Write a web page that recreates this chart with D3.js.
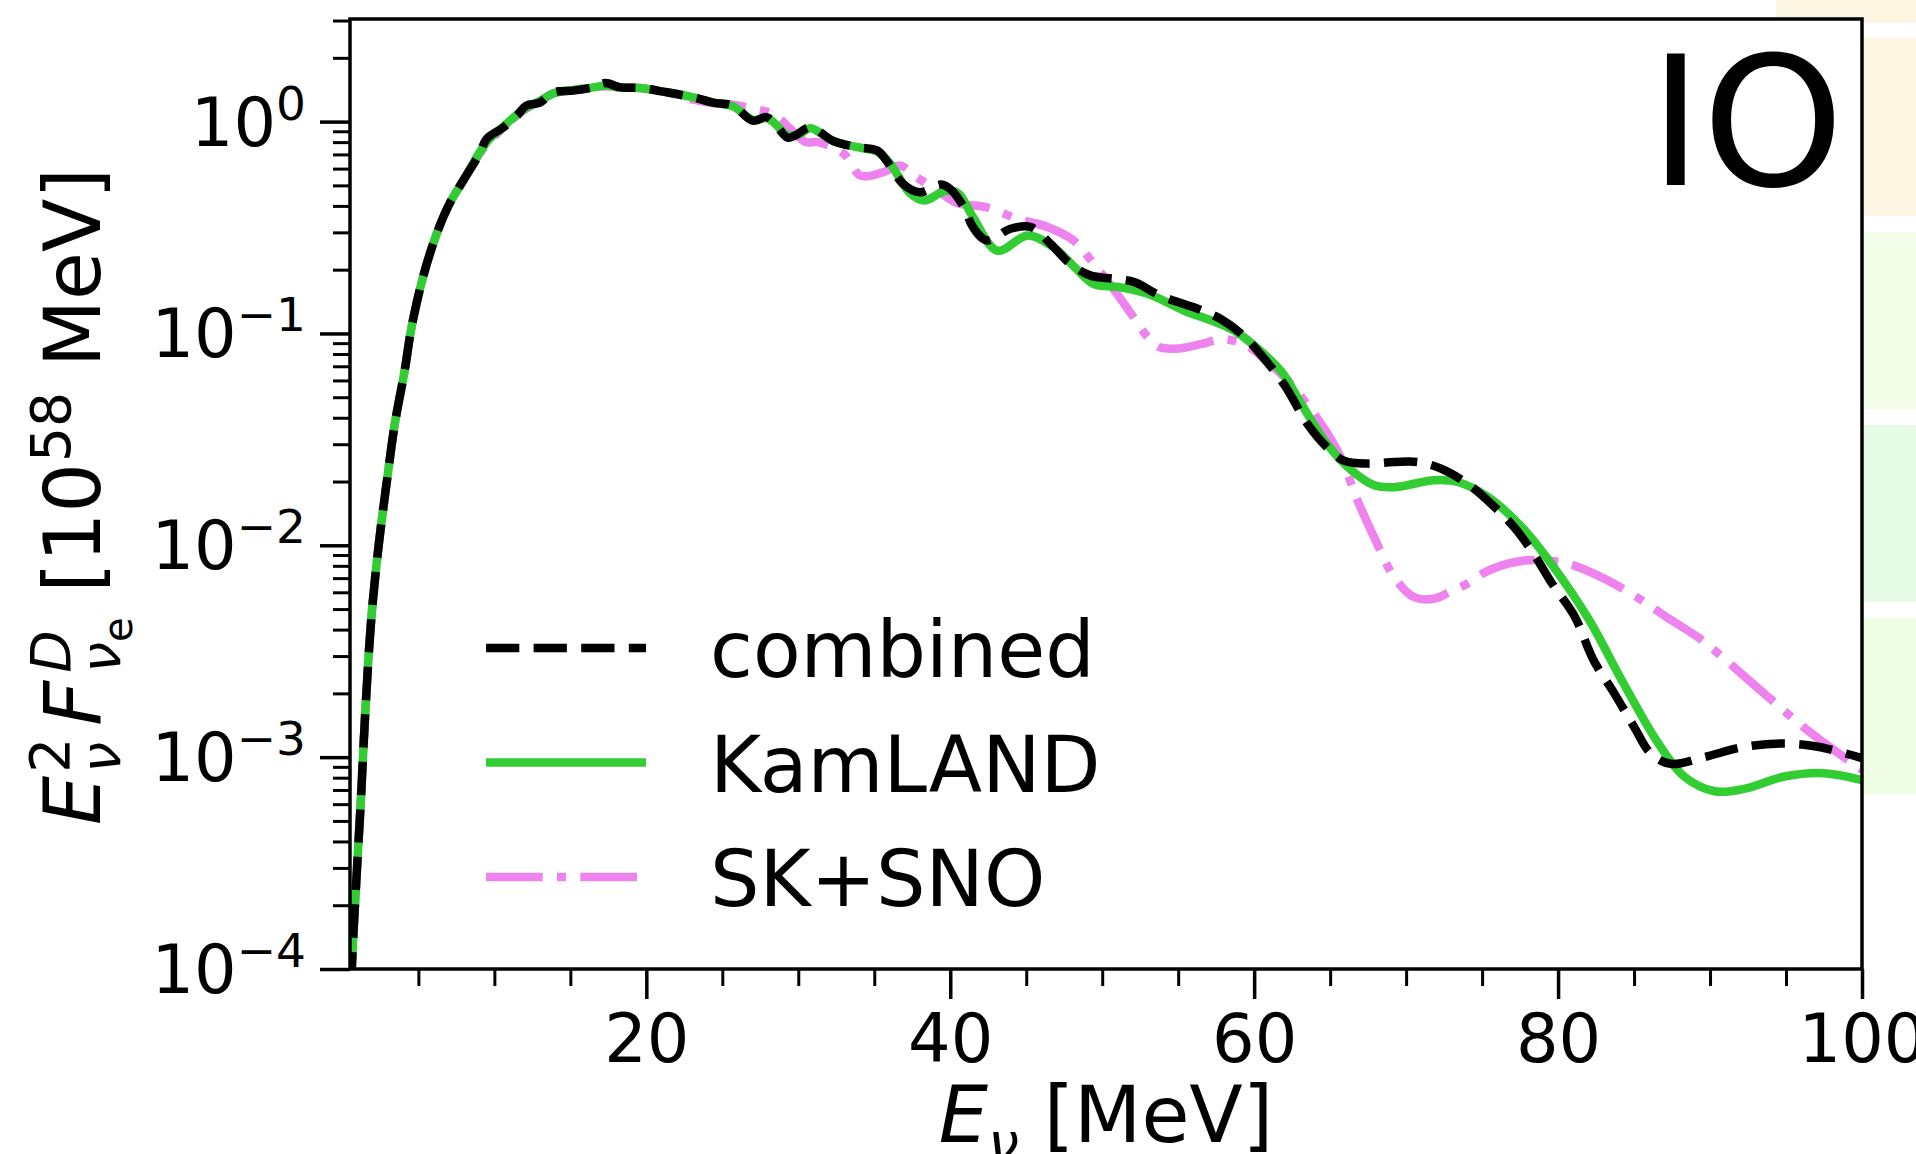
<!DOCTYPE html>
<html lang="en">
<head>
    <title>IO flux</title>
    <meta charset="utf-8">
    <style>
        body { margin: 0; background: #ffffff; }
        svg text { font-family: "DejaVu Sans", sans-serif; fill: #000; }
    </style>
    <script src="https://d3js.org/d3.v7.min.js"></script>
</head>

<body>
<div id="chart"></div>

<script>

    // [E_nu (MeV), E^2 F (1e58 MeV)]
    const combined = [
        [0.55, 5e-5], [0.62, 1e-4], [0.9, 2.5e-4], [1.2, 6e-4], [1.5, 1.6e-3], [1.9, 4.5e-3],
        [2.4, 0.0102], [3.0, 0.022], [3.45, 0.0375], [4.1, 0.067], [4.55, 0.107], [5.3, 0.184],
        [6.2, 0.295], [7.05, 0.41], [7.95, 0.527], [9.0, 0.70], [9.5, 0.83], [10.6, 0.94],
        [11.5, 1.07], [12.1, 1.19], [13.0, 1.23], [13.9, 1.375], [15.2, 1.40], [16.5, 1.45],
        [17.3, 1.52], [18.3, 1.45], [19.6, 1.44], [21.35, 1.375], [23.1, 1.30], [24.4, 1.23],
        [25.7, 1.19], [27.0, 1.01], [27.9, 1.05], [28.4, 0.99], [29.3, 0.84], [29.8, 0.86],
        [30.8, 0.94], [32.3, 0.81], [33.9, 0.757], [35.2, 0.73], [35.8, 0.655], [36.9, 0.508],
        [38.0, 0.464], [39.4, 0.505], [40.0, 0.481], [40.9, 0.394], [41.5, 0.317], [42.4, 0.275],
        [43.96, 0.312], [45.3, 0.318], [46.6, 0.265], [47.9, 0.213], [49.2, 0.188], [50.8, 0.181],
        [52.1, 0.175], [53.8, 0.151], [56.5, 0.129], [57.8, 0.117], [59.2, 0.099], [60.6, 0.077],
        [62.0, 0.057], [63.5, 0.0375], [64.8, 0.029], [65.9, 0.0251], [67.5, 0.0243], [69.2, 0.0247],
        [70.8, 0.0247], [72.3, 0.023], [74.05, 0.0195], [75.6, 0.0157], [77.1, 0.0122], [78.4, 0.0091],
        [79.6, 0.0066], [81.1, 0.0046], [82.3, 0.0029], [83.7, 0.0020], [85.0, 0.00139], [86.1, 0.00104],
        [87.4, 0.00093], [89.6, 0.00100], [92.3, 0.00112], [94.9, 0.00116], [97.1, 0.00112], [100, 0.00099]
    ];

    const kamland = [
        [0.55, 5e-5], [0.62, 1e-4], [0.9, 2.5e-4], [1.2, 6e-4], [1.5, 1.6e-3], [1.9, 4.5e-3],
        [2.4, 0.0102], [3.0, 0.022], [3.45, 0.0375], [4.1, 0.067], [4.55, 0.107], [5.3, 0.184],
        [6.2, 0.295], [7.05, 0.41], [7.95, 0.527], [9.0, 0.71], [9.5, 0.80], [10.6, 0.95],
        [11.5, 1.08], [12.1, 1.16], [13.0, 1.25], [13.9, 1.36], [15.2, 1.41], [16.5, 1.45],
        [17.3, 1.48], [18.3, 1.45], [19.6, 1.44], [21.35, 1.375], [23.1, 1.30], [24.4, 1.23],
        [25.7, 1.18], [27.0, 1.02], [27.9, 1.04], [28.4, 0.99], [29.3, 0.86], [30.1, 0.875],
        [30.8, 0.93], [32.3, 0.81], [33.9, 0.757], [35.2, 0.72], [36.0, 0.64], [37.4, 0.456],
        [38.3, 0.424], [39.6, 0.469], [40.5, 0.46], [41.5, 0.354], [43.1, 0.246], [45.1, 0.290],
        [46.8, 0.255], [48.2, 0.205], [49.45, 0.171], [51.0, 0.166], [53.0, 0.154], [55.4, 0.128],
        [57.2, 0.115], [58.7, 0.103], [60.4, 0.083], [61.8, 0.066], [63.1, 0.0466], [64.8, 0.030],
        [66.4, 0.0226], [67.9, 0.0192], [69.2, 0.0188], [71.85, 0.0203], [73.4, 0.0199], [75.4, 0.0169],
        [77.6, 0.0122], [79.6, 0.0081], [82.0, 0.0045], [84.2, 0.0023], [86.6, 0.00116], [88.3, 0.00081],
        [90.3, 0.00069], [92.3, 0.00071], [94.9, 0.00081], [97.5, 0.00084], [100, 0.00078]
    ];

    const sksno = [
        [0.55, 5e-5], [0.62, 1e-4], [0.9, 2.5e-4], [1.2, 6e-4], [1.5, 1.6e-3], [1.9, 4.5e-3],
        [2.4, 0.0102], [3.0, 0.022], [3.45, 0.0375], [4.1, 0.067], [4.55, 0.107], [5.3, 0.184],
        [6.2, 0.295], [7.05, 0.41], [7.95, 0.527], [9.0, 0.70], [9.5, 0.78], [10.6, 0.94],
        [11.5, 1.07], [12.1, 1.15], [13.0, 1.25], [13.9, 1.36], [15.2, 1.41], [16.5, 1.45],
        [17.3, 1.47], [18.3, 1.45], [19.6, 1.44], [21.35, 1.375], [23.1, 1.27], [24.4, 1.22],
        [25.7, 1.20], [27.0, 1.15], [28.4, 1.08], [29.5, 0.92], [30.5, 0.80], [31.3, 0.80],
        [33.0, 0.704], [34.1, 0.556], [35.6, 0.577], [36.7, 0.62], [37.8, 0.546], [39.2, 0.47],
        [40.5, 0.412], [42.4, 0.394], [44.4, 0.348], [46.4, 0.318], [48.1, 0.275], [49.45, 0.213],
        [50.8, 0.16], [51.9, 0.124], [53.0, 0.096], [53.8, 0.086], [55.1, 0.085], [56.5, 0.089],
        [58.0, 0.094], [59.6, 0.087], [60.9, 0.073], [62.2, 0.060], [64.4, 0.0375], [65.7, 0.026],
        [66.8, 0.0163], [67.9, 0.0109], [69.2, 0.0071], [70.5, 0.0057], [71.85, 0.0056], [73.0, 0.0061],
        [74.05, 0.0066], [75.1, 0.0074], [76.2, 0.0080], [78.0, 0.0085], [80.6, 0.0082], [82.8, 0.0071],
        [85.0, 0.0058], [87.1, 0.0046], [89.4, 0.0036], [90.5, 0.0031], [93.8, 0.00193], [96.7, 0.00129],
        [100, 0.00087]
    ];

    const xMajor = [20, 40, 60, 80, 100];
    const xMinor = [5, 10, 15, 25, 30, 35, 45, 50, 55, 65, 70, 75, 85, 90, 95];
    const yMajor = [1e-4, 1e-3, 1e-2, 1e-1, 1];
    const yExponents = ["\u22124", "\u22123", "\u22122", "\u22121", "0"];
    const legendLabels = ["combined", "KamLAND", "SK+SNO"];

    // set the dimensions and margins of the graph
    const margin = {top: 19, right: 54, bottom: 185, left: 350},
        width = 1916 - margin.left - margin.right,
        height = 1154 - margin.top - margin.bottom;

    const root = d3.select("#chart")
        .append("svg")
        .attr("width", 1916)
        .attr("height", 1154);

    // edges of the neighbouring panels peeking in on the right
    root.append("rect").attr("x", 1776).attr("y", 0).attr("width", 140).attr("height", 23).attr("fill", "#fdf6e3");
    root.append("rect").attr("x", 1864).attr("y", 38).attr("width", 52).attr("height", 178).attr("fill", "#fdf6e3");
    root.append("rect").attr("x", 1864).attr("y", 232).attr("width", 52).attr("height", 177).attr("fill", "#f4fde7");
    root.append("rect").attr("x", 1864).attr("y", 425).attr("width", 52).attr("height", 177).attr("fill", "#e6fce6");
    root.append("rect").attr("x", 1864).attr("y", 618).attr("width", 52).attr("height", 176).attr("fill", "#f0fde5");

    const svg = root.append("g")
        .attr("transform", `translate(${margin.left},${margin.top})`);

    svg.append("rect")
        .attr("width", width)
        .attr("height", height)
        .attr("fill", "#ffffff");

    const x = d3.scaleLinear()
        .domain([0.5, 100])
        .range([0, width]);
    const y = d3.scaleLog()
        .domain([1e-4, 3.05])
        .range([height, 0]);

    svg.append("clipPath")
        .attr("id", "plot-clip")
        .append("rect")
        .attr("width", width)
        .attr("height", height);

    const line = d3.line()
        .x(d => x(d[0]))
        .y(d => y(d[1]))
        .curve(d3.curveCatmullRom.alpha(0.5));

    const series = [
        {data: sksno, color: "#ee82ee", dash: "56.7,14.3,9,14.3"},
        {data: kamland, color: "#32cd32", dash: null},
        {data: combined, color: "#000000", dash: "33.3,14.3"}
    ];

    svg.append("g")
        .attr("clip-path", "url(#plot-clip)")
        .selectAll("path")
        .data(series)
        .join("path")
        .attr("fill", "none")
        .attr("stroke", d => d.color)
        .attr("stroke-width", 8.5)
        .attr("stroke-dasharray", d => d.dash)
        .attr("d", d => line(d.data));

    // x axis, major and minor ticks
    const xAxisMajor = svg.append("g")
        .attr("transform", `translate(0,${height})`)
        .call(d3.axisBottom(x).tickValues(xMajor).tickSize(30).tickSizeOuter(0).tickFormat(d3.format("d")));
    xAxisMajor.select(".domain").remove();
    xAxisMajor.selectAll("line").attr("stroke-width", 3.5);
    xAxisMajor.selectAll("text")
        .attr("y", 93)
        .attr("dy", null)
        .attr("font-size", 67)
        .attr("font-family", "DejaVu Sans");

    const xAxisMinor = svg.append("g")
        .attr("transform", `translate(0,${height})`)
        .call(d3.axisBottom(x).tickValues(xMinor).tickSize(17).tickSizeOuter(0).tickFormat(""));
    xAxisMinor.select(".domain").remove();
    xAxisMinor.selectAll("line").attr("stroke-width", 3);

    // y axis, log ticks
    const yMinor = [];
    yMajor.forEach(v => {
        for (let k = 2; k <= 9; k++) {
            if (v * k <= 3.05) yMinor.push(v * k);
        }
    });

    const yAxisMajor = svg.append("g")
        .call(d3.axisLeft(y).tickValues(yMajor).tickSize(30).tickSizeOuter(0).tickFormat(""));
    yAxisMajor.select(".domain").remove();
    yAxisMajor.selectAll("line").attr("stroke-width", 3.5);

    const yAxisMinor = svg.append("g")
        .call(d3.axisLeft(y).tickValues(yMinor).tickSize(17).tickSizeOuter(0).tickFormat(""));
    yAxisMinor.select(".domain").remove();
    yAxisMinor.selectAll("line").attr("stroke-width", 3);

    svg.selectAll("text.ylab")
        .data(yMajor)
        .join("text")
        .attr("class", "ylab")
        .attr("x", -44)
        .attr("y", d => y(d) + 24)
        .attr("text-anchor", "end")
        .attr("font-size", 67)
        .each(function (d, i) {
            const t = d3.select(this);
            t.append("tspan").text("10");
            t.append("tspan").attr("dy", -26).attr("font-size", 47).text(yExponents[i]);
        });

    // spines
    svg.append("rect")
        .attr("width", width)
        .attr("height", height)
        .attr("fill", "none")
        .attr("stroke", "#000")
        .attr("stroke-width", 3.5);

    // legend
    const legend = svg.append("g");
    legendLabels.forEach((label, i) => {
        const s = series[2 - i];
        const ly = 629 + i * 114.5;
        legend.append("line")
            .attr("x1", 136).attr("x2", 296)
            .attr("y1", ly).attr("y2", ly)
            .attr("stroke", s.color)
            .attr("stroke-width", 8.5)
            .attr("stroke-dasharray", s.dash);
        legend.append("text")
            .attr("x", 360)
            .attr("y", ly + 29)
            .attr("font-size", 78)
            .text(label);
    });

    // panel tag
    svg.append("text")
        .attr("x", 1844 - margin.left)
        .attr("y", 185 - margin.top)
        .attr("text-anchor", "end")
        .attr("font-size", 180)
        .text("IO");

    // x label
    const xlab = root.append("text")
        .attr("x", margin.left + width / 2)
        .attr("y", 1142)
        .attr("text-anchor", "middle")
        .attr("font-size", 78);
    xlab.append("tspan").attr("font-style", "italic").text("E");
    xlab.append("tspan").attr("font-style", "italic").attr("font-size", 55).attr("dy", 20).text("\u03bd");
    xlab.append("tspan").attr("dy", -20).text(" [MeV]");

    // y label, pieces laid out along the rotated baseline
    const ylab = root.append("g").attr("transform", "translate(100,825) rotate(-90)");
    function piece(str, size, at, shift, italic) {
        const t = ylab.append("text")
            .attr("x", at)
            .attr("y", shift)
            .attr("font-size", size)
            .attr("font-style", italic ? "italic" : null)
            .text(str);
        return t.node().getComputedTextLength();
    }
    let cx = 0;
    cx += piece("E", 78, cx, 0, true) + 3;
    let wSub = piece("\u03bd", 55, cx, 20, true);
    let wSup = piece("2", 55, cx, -31, false);
    cx += Math.max(wSub, wSup) + 12;
    cx += piece("F", 78, cx, 0, true) + 8;
    wSup = piece("D", 55, cx, -30, true);
    wSub = piece("\u03bd", 55, cx, 20, true);
    wSub += piece("e", 40, cx + wSub, 32, false);
    cx += Math.max(wSub, wSup) + 24.8;
    cx += piece("[10", 78, cx, 0, false) + 1;
    cx += piece("58", 55, cx, -30, false);
    piece("\u00a0MeV]", 78, cx, 0, false);

</script>
</body>
</html>
